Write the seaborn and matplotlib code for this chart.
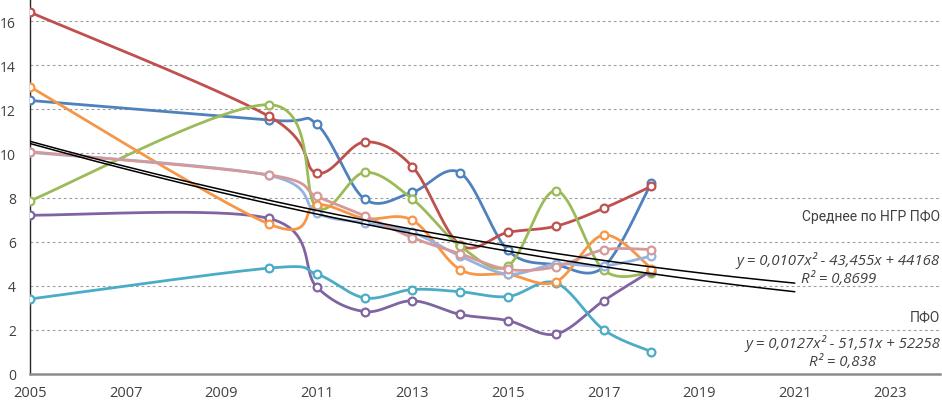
import numpy as np
import pandas as pd
import matplotlib
matplotlib.use("Agg")
import matplotlib.pyplot as plt
import seaborn as sns

# ---------------- data ----------------
years = [2005, 2010, 2011, 2012, 2013, 2014, 2015, 2016, 2017, 2018]
series_names = ["s1", "s2", "s3", "s4", "s5", "s6", "ПФО", "Среднее по НГР ПФО"]
s1_blue   = [12.40, 11.51, 11.32, 7.93, 8.24, 9.12, 5.60, 4.95, 4.85, 8.66]
s2_red    = [16.40, 11.68, 9.11, 10.52, 9.40, 5.85, 6.42, 6.70, 7.51, 8.51]
s3_green  = [7.85, 12.21, 7.55, 9.14, 7.93, 5.80, 4.90, 8.31, 4.72, 4.60]
s4_purple = [7.20, 7.05, 3.94, 2.83, 3.32, 2.70, 2.42, 1.81, 3.32, 4.68]
s5_aqua   = [3.40, 4.80, 4.53, 3.45, 3.83, 3.73, 3.51, 4.13, 2.01, 1.01]
s6_orange = [13.02, 6.80, 7.68, 7.05, 6.97, 4.73, 4.52, 4.18, 6.30, 4.78]
s7_ltblue = [10.05, 9.00, 7.30, 6.85, 6.42, 5.35, 4.53, 4.98, 4.90, 5.35]
s8_pink   = [10.08, 9.03, 8.05, 7.17, 6.18, 5.45, 4.74, 4.86, 5.63, 5.64]
series_values = [s1_blue, s2_red, s3_green, s4_purple, s5_aqua, s6_orange, s7_ltblue, s8_pink]
colors = ["#4F81BD", "#C0504D", "#9BBB59", "#8064A2", "#4BACC6", "#F79646", "#95B3DE", "#D6999A"]

x_ticks = list(range(2005, 2024, 2))
y_ticks = list(range(0, 17, 2))
trend_series = ["Среднее по НГР ПФО", "ПФО"]
trend_end = 2021
label_top = "Среднее по НГР ПФО"
eq_top = "y = 0,0107x² - 43,455x + 44168\nR² = 0,8699"
label_bot = "ПФО"
eq_bot = "y = 0,0127x² - 51,51x + 52258\nR² = 0,838"

df = pd.DataFrame(
    [(n, y, v) for n, vals in zip(series_names, series_values) for y, v in zip(years, vals)],
    columns=["series", "year", "value"],
)


def smooth_curve(xs, ys, n=40):
    """Excel-style smoothed line (Catmull-Rom cubic Bezier) through the data points."""
    P = np.column_stack([np.asarray(xs, float), np.asarray(ys, float)])
    out = [P[0]]
    t = np.linspace(0, 1, n)[1:, None]
    for i in range(len(P) - 1):
        p0 = P[i - 1] if i > 0 else P[i]
        p1, p2 = P[i], P[i + 1]
        p3 = P[i + 2] if i + 2 < len(P) else P[i + 1]
        c1 = p1 + (p2 - p0) / 6.0
        c2 = p2 - (p3 - p1) / 6.0
        seg = (1 - t) ** 3 * p1 + 3 * (1 - t) ** 2 * t * c1 + 3 * (1 - t) * t ** 2 * c2 + t ** 3 * p2
        out.extend(seg)
    return np.array(out)


# ---------------- figure ----------------
sns.set_style("white")
plt.rcParams["font.family"] = ["Open Sans", "DejaVu Sans"]

fig = plt.figure(figsize=(9.42, 4.02), dpi=100)
ax = fig.add_axes([30 / 942, 1 - 375 / 402, 910 / 942, 375 / 402])

for k, (name, col) in enumerate(zip(series_names, colors)):
    sub = df[df.series == name]
    sm = smooth_curve(sub.year.values, sub.value.values)
    sdf = pd.DataFrame({"x": sm[:, 0], "y": sm[:, 1]})
    sns.lineplot(data=sdf, x="x", y="y", sort=False, estimator=None, color=col,
                 linewidth=2.0, ax=ax, zorder=3 + k, legend=False)
    ax.plot(sub.year, sub.value, linestyle="none", marker="o", markersize=5.6,
            markerfacecolor="white", markeredgecolor=col, markeredgewidth=1.6, zorder=3 + k)

# polynomial (order 2) trend lines with forward forecast
for name in trend_series:
    sub = df[df.series == name]
    xx = sub.year.values - 2005.0
    coef = np.polyfit(xx, sub.value.values, 2)
    xs = np.linspace(2005, trend_end, 200)
    ys = np.polyval(coef, xs - 2005.0)
    ax.plot(xs, ys, color="black", linewidth=1.1, zorder=20)

ax.set_xlim(2005, 2005 + 910 / 47.8)
ax.set_ylim(0, 17)
ax.set_xticks(x_ticks)
ax.set_yticks(y_ticks)
ax.set_xlabel("")
ax.set_ylabel("")

ax.grid(axis="y", color="#A0A0A0", linestyle=(0, (2.5, 2.5)), linewidth=0.8)
ax.grid(axis="x", visible=False)
ax.set_axisbelow(True)
for s in ["top", "right"]:
    ax.spines[s].set_visible(False)
ax.spines["left"].set_color("#262626")
ax.spines["left"].set_linewidth(1.0)
ax.spines["bottom"].set_color("#8C8C8C")
ax.spines["bottom"].set_linewidth(1.8)
ax.spines["left"].set_zorder(2)

ax.tick_params(axis="x", direction="out", length=5, width=1.2, color="#8C8C8C",
               labelsize=10.5, labelcolor="#404040", pad=3)
ax.tick_params(axis="y", direction="out", length=5, width=1.0, color="#262626",
               labelsize=10, labelcolor="#404040", pad=5)

ax.text(1.0, 0.421, label_top, va="center", transform=ax.transAxes, ha="right",
        color="#404040", fontsize=10, family=["Roboto", "DejaVu Sans"])
ax.text(1.0, 0.281, eq_top, va="center", multialignment="center", fontstyle="italic",
        linespacing=1.25, transform=ax.transAxes, ha="right", color="#404040", fontsize=10.8)
ax.text(1.0, 0.155, label_bot, va="center", transform=ax.transAxes, ha="right",
        color="#404040", fontsize=10, family=["Roboto", "DejaVu Sans"])
ax.text(1.0, 0.059, eq_bot, va="center", multialignment="center", fontstyle="italic",
        linespacing=1.25, transform=ax.transAxes, ha="right", color="#404040", fontsize=10.8)

fig.savefig("out.png", dpi=100)
